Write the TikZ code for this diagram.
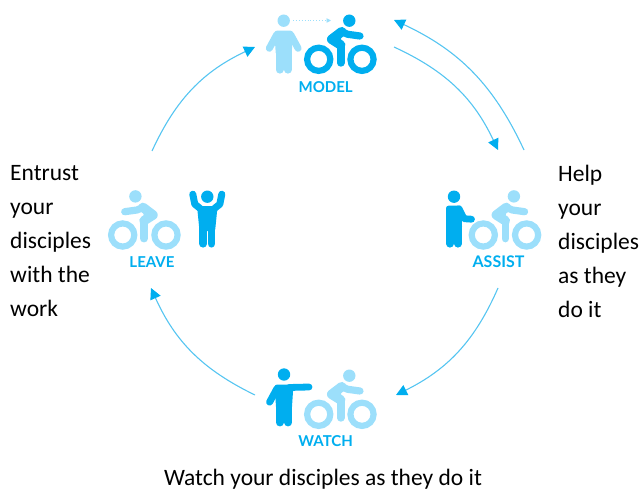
\documentclass[tikz,border=0pt]{standalone}
\usepackage{fontspec}
\setmainfont{Carlito}
\newfontfamily\iconfont{Lato}
\usetikzlibrary{arrows.meta}
\definecolor{deepblue}{HTML}{00AEEF}
\definecolor{paleblue}{HTML}{9CDFFB}
\definecolor{arcblue}{HTML}{55C5F1}
\tikzset{
  x=1pt,y=-1pt,
  limb/.style={line width=#1,line cap=round,line join=round},
  limb/.default=6.5pt,
  cycle arc/.style={draw=arcblue,line width=1.1pt,-{Triangle[length=11pt,width=11pt,color=deepblue]}},
  caption/.style={font=\fontsize{23.5}{34}\selectfont,align=left,anchor=north west,inner sep=0pt,text=black},
  iconlabel/.style={font=\iconfont\bfseries\fontsize{15}{15}\selectfont,text=deepblue,inner sep=0pt},
  pics/rider/.style={code={
    \begin{scope}[color=#1]
      \draw[line width=6.2pt] (0,0) circle[radius=11.6];
      \draw[line width=6.2pt] (43.3,0) circle[radius=11.6];
      \fill (30.6,-38.6) circle[radius=6.2];
      \draw[limb=7.2pt] (41.3,-23.3) -- (29,-25) -- (23,-27.6);
      \draw[limb=9.5pt,fill=#1] (23,-27.6) -- (13,-20) -- (22,-14.3);
      \draw[limb=7.6pt] (22,-14.3) -- (22,3.6);
    \end{scope}
  }},
  pics/personmodel/.style={code={
    \begin{scope}[color=#1]
      \fill (0,0) circle[radius=6.2];
      \draw[limb=5pt,fill=#1] (-6.8,12.5) -- (6.8,12.5) -- (5.5,32) -- (-5.5,32) -- cycle;
      \draw[limb=7pt] (-7,14) -- (-14.4,27.6);
      \draw[limb=7pt] (7,14) -- (14.4,27.6);
      \draw[limb=7.8pt] (-4.1,30) -- (-4.1,49);
      \draw[limb=7.8pt] (4.1,30) -- (4.1,49);
    \end{scope}
  }},
  pics/personleave/.style={code={
    \begin{scope}[color=#1]
      \fill (0,0) circle[radius=6.2];
      \draw[limb=5pt,fill=#1] (-7.5,12) -- (7.5,12) -- (5.5,32) -- (-5.5,32) -- cycle;
      \draw[limb=7pt] (-7.5,11.5) -- (-12.5,7.5) -- (-14.5,-2.5);
      \draw[limb=7pt] (7.5,11.5) -- (12.5,7.5) -- (14.5,-2.5);
      \draw[limb=7.8pt] (-4.1,30) -- (-4.1,47);
      \draw[limb=7.8pt] (4.1,30) -- (4.1,47);
    \end{scope}
  }},
  pics/personassist/.style={code={
    \begin{scope}[color=#1]
      \fill (0,0) circle[radius=6.2];
      \draw[limb=5pt,fill=#1] (-5.5,11.5) -- (5,11.5) -- (5.5,30) -- (-5.5,30) -- cycle;
      \draw[limb=6.8pt] (5,12) -- (10,22) -- (17.5,22.5);
      \draw[limb=7.8pt] (-4.1,30) -- (-4.1,47);
      \draw[limb=7.8pt] (4.1,30) -- (4.1,47);
    \end{scope}
  }},
  pics/personwatch/.style={code={
    \begin{scope}[color=#1]
      \fill (0,0) circle[radius=6.2];
      \draw[limb=5pt,fill=#1] (-6.8,12.5) -- (6.8,12.5) -- (5.5,32) -- (-5.5,32) -- cycle;
      \draw[limb=7pt] (-7,14) -- (-14.4,27.6);
      \draw[limb=6.8pt] (5,13) -- (25,12.5);
      \draw[limb=7.8pt] (-4.1,30) -- (-4.1,48);
      \draw[limb=7.8pt] (4.1,30) -- (4.1,48);
    \end{scope}
  }}
}
\begin{document}
\begin{tikzpicture}
\useasboundingbox (0,0) rectangle (642,492);
% MODEL
\pic at (283.7,20.7) {personmodel=paleblue};
\pic at (318.7,59.3) {rider=deepblue};
\coordinate (dotsA) at (293,20.5);
\coordinate (dotsB) at (331,20.5);
\draw[draw=paleblue,line width=0.9pt,dotted,-{Triangle[length=4.5pt,width=4.5pt]}] (dotsA) -- (dotsB);
\node[iconlabel] (model) at (325.7,87) {MODEL};
% LEAVE
\pic[xscale=-1] at (166,235) {rider=paleblue};
\pic at (207.3,196.7) {personleave=deepblue};
\node[iconlabel] (leave) at (152,262) {LEAVE};
% ASSIST
\pic at (483.3,235) {rider=paleblue};
\pic at (454,196.7) {personassist=deepblue};
\node[iconlabel,font=\iconfont\bfseries\fontsize{16}{16}\selectfont] (assist) at (498.5,262) {ASSIST};
% WATCH
\pic at (284,374.5) {personwatch=deepblue};
\pic at (318.7,414.3) {rider=paleblue};
\node[iconlabel] (watch) at (325.7,441) {WATCH};
% arcs
\coordinate (a1) at (152,151);  \coordinate (a2) at (255,47);
\coordinate (b1) at (394,47);   \coordinate (b2) at (498,150);
\coordinate (c1) at (524,150);  \coordinate (c2) at (394,20);
\coordinate (d1) at (498,288);  \coordinate (d2) at (396,395);
\coordinate (e1) at (255,395);  \coordinate (e2) at (151,288);
\draw[cycle arc] (a1) to[bend left=20] (a2);
\draw[cycle arc] (b1) to[bend left=20] (b2);
\draw[cycle arc] (c1) to[bend right=20] (c2);
\draw[cycle arc] (d1) to[bend left=20] (d2);
\draw[cycle arc] (e1) to[bend left=20] (e2);
% captions
\node[caption] (entrust) at (10,165) {Entrust\\your\\disciples\\with the\\work};
\node[caption] (help) at (558,165) {Help\\your\\disciples\\as they\\do it};
\node[caption,anchor=north] (watchtext) at (323,469) {Watch your disciples as they do it};
\end{tikzpicture}
\end{document}
